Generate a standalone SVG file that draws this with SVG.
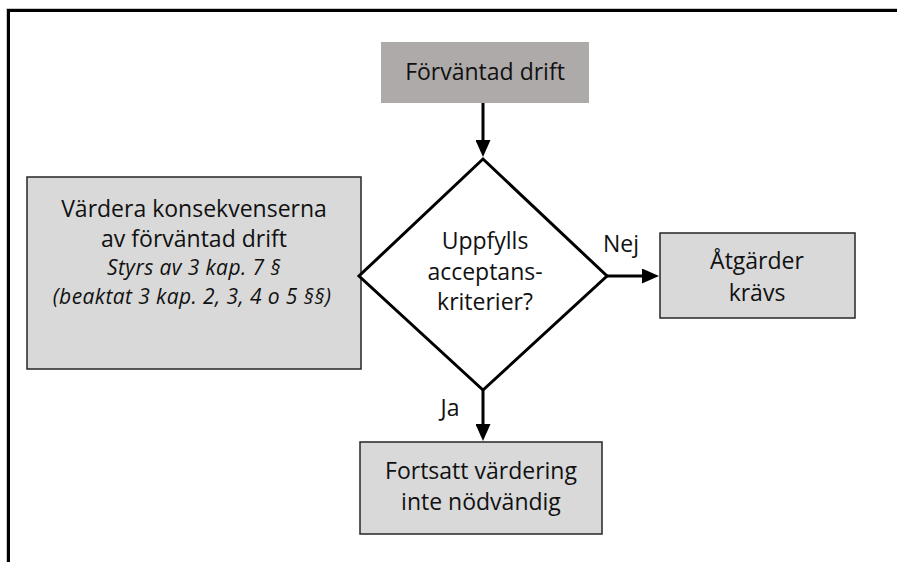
<svg xmlns="http://www.w3.org/2000/svg" width="897" height="562" viewBox="0 0 897 562">
  <defs>
    <marker id="arrow" markerUnits="userSpaceOnUse" markerWidth="17" markerHeight="15" refX="9" refY="7.5" orient="auto">
      <path d="M0,0 L17,7.5 L0,15 Z" fill="#000"/>
    </marker>
  </defs>
  <style>
    .t { font-family: "Open Sans", "Noto Sans", "Liberation Sans", sans-serif; font-size: 23px; fill: #111; text-anchor: middle; }
    .i { font-family: "Open Sans", "Noto Sans", "Liberation Sans", sans-serif; font-size: 21px; letter-spacing: 0.4px; font-style: italic; fill: #111; text-anchor: middle; }
    .box { fill: #D9D9D9; stroke: #262626; stroke-width: 1.5; }
    .conn { stroke: #000; stroke-width: 3; fill: none; }
  </style>
  <rect width="897" height="562" fill="#fff"/>
  <path d="M6.5,562 V8.5 H897" fill="none" stroke="#c8c8c8" stroke-width="1"/>
  <path d="M8.5,562 V10.5 H897" fill="none" stroke="#000" stroke-width="3"/>

  <g id="connectors">
    <line class="conn" x1="483" y1="103" x2="483" y2="149" marker-end="url(#arrow)"/>
    <line class="conn" x1="607" y1="276" x2="651" y2="276" marker-end="url(#arrow)"/>
    <line class="conn" x1="483" y1="390" x2="483" y2="433" marker-end="url(#arrow)"/>
    <text class="t" x="621" y="252">Nej</text>
    <text class="t" x="450" y="416">Ja</text>
  </g>

  <g id="start">
    <rect x="381" y="42" width="208" height="61" fill="#AEAAAA"/>
    <text class="t" x="485" y="80">Förväntad drift</text>
  </g>

  <g id="evaluate">
    <rect class="box" x="27" y="177" width="334" height="192"/>
    <text class="t" x="194" y="217">Värdera konsekvenserna</text>
    <text class="t" x="194" y="247">av förväntad drift</text>
    <text class="i" x="194" y="275">Styrs av 3 kap. 7 §</text>
    <text class="i" x="192" y="304">(beaktat 3 kap. 2, 3, 4 o 5 §§)</text>
  </g>

  <g id="decision">
    <polygon points="483,159 359,276 483,390 607,276" fill="#fff" stroke="#000" stroke-width="3" stroke-linejoin="miter"/>
    <text class="t" x="485" y="249">Uppfylls</text>
    <text class="t" x="485" y="280">acceptans-</text>
    <text class="t" x="485" y="310">kriterier?</text>
  </g>

  <g id="actions">
    <rect class="box" x="660" y="233" width="195" height="85"/>
    <text class="t" x="757" y="269">Åtgärder</text>
    <text class="t" x="757" y="301">krävs</text>
  </g>

  <g id="no-further">
    <rect class="box" x="360" y="442" width="242" height="92"/>
    <text class="t" x="481" y="479">Fortsatt värdering</text>
    <text class="t" x="481" y="510">inte nödvändig</text>
  </g>
</svg>
